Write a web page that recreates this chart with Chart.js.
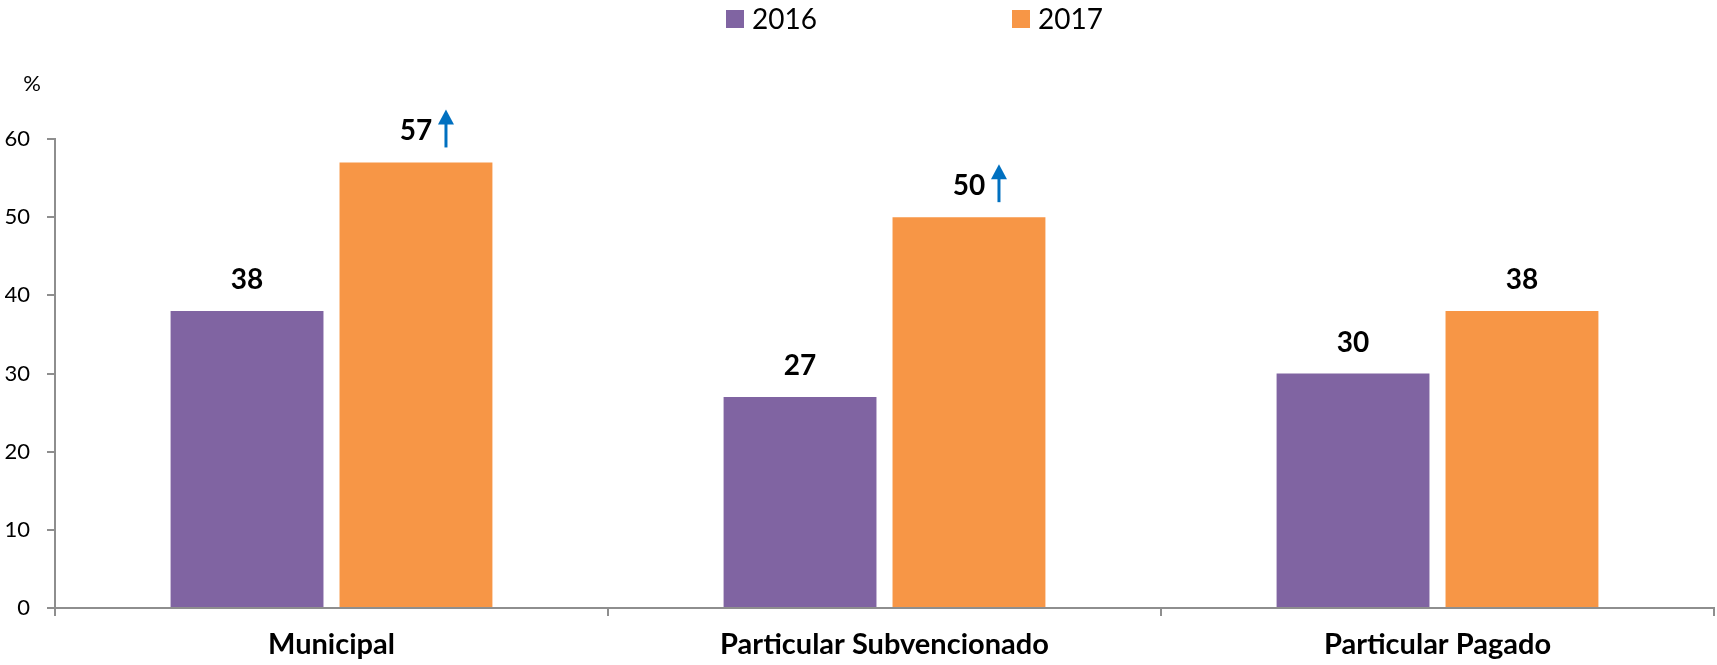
<!DOCTYPE html>
<html>
<head>
<meta charset="utf-8">
<script src="https://cdn.jsdelivr.net/npm/chart.js@4/dist/chart.umd.min.js"></script>
<style>
  html, body { margin: 0; padding: 0; background: #ffffff; }
  #wrap { width: 1717px; height: 665px; position: relative; }
</style>
</head>
<body>
<div id="wrap"><canvas id="c" width="1717" height="665"></canvas></div>
<script>
// ---- data ----
const categories = ["Municipal", "Particular Subvencionado", "Particular Pagado"];
const seriesNames = ["2016", "2017"];
const values2016 = [38, 27, 30];
const values2017 = [57, 50, 38];
const arrows2017 = [true, true, false];
const yTicks = [0, 10, 20, 30, 40, 50, 60];
const yUnit = "%";

const colors = ["#8064A2", "#F79646"];
const axisColor = "#8e8e8e";
const fontFamily = "Lato, 'Open Sans', 'Liberation Sans', sans-serif";

const overlayPlugin = {
  id: "overlay",
  afterDraw(chart) {
    const ctx = chart.ctx;
    ctx.save();
    // legend
    ctx.font = "28px " + fontFamily;
    ctx.textBaseline = "middle";
    ctx.textAlign = "left";
    const legendX = [726, 1012];
    seriesNames.forEach((name, i) => {
      ctx.fillStyle = colors[i];
      ctx.fillRect(legendX[i], 10, 18, 18);
      ctx.fillStyle = "#000000";
      ctx.fillText(name, legendX[i] + 26, 20);
    });
    // unit label
    ctx.font = "22px " + fontFamily;
    ctx.textAlign = "center";
    ctx.fillText(yUnit, 32, 84);
    // data labels
    ctx.font = "bold 28px " + fontFamily;
    ctx.textAlign = "center";
    ctx.textBaseline = "middle";
    chart.data.datasets.forEach((ds, di) => {
      const meta = chart.getDatasetMeta(di);
      meta.data.forEach((bar, i) => {
        ctx.fillStyle = "#000000";
        ctx.fillText(String(ds.data[i]), bar.x, bar.y - 31);
        if (di === 1 && arrows2017[i]) {
          const ax = bar.x + 30;
          const top = bar.y - 53;
          ctx.strokeStyle = "#0070C0";
          ctx.fillStyle = "#0070C0";
          ctx.lineWidth = 3;
          ctx.beginPath();
          ctx.moveTo(ax, bar.y - 15);
          ctx.lineTo(ax, top + 10);
          ctx.stroke();
          ctx.beginPath();
          ctx.moveTo(ax, top);
          ctx.lineTo(ax - 8, top + 15);
          ctx.lineTo(ax + 8, top + 15);
          ctx.closePath();
          ctx.fill();
        }
      });
    });
    ctx.restore();
  }
};

new Chart(document.getElementById("c"), {
  type: "bar",
  data: {
    labels: categories,
    datasets: [
      { label: seriesNames[0], data: values2016, backgroundColor: colors[0] },
      { label: seriesNames[1], data: values2017, backgroundColor: colors[1] }
    ]
  },
  options: {
    responsive: false,
    animation: false,
    events: [],
    layout: { padding: { top: 139, left: 5, right: 3, bottom: 2 } },
    datasets: { bar: { categoryPercentage: 0.611, barPercentage: 0.905 } },
    plugins: { legend: { display: false }, tooltip: { enabled: false } },
    scales: {
      x: {
        afterFit(scale) { scale.height = 55; },
        grid: { display: true, drawOnChartArea: false, drawTicks: true, tickLength: 8, color: axisColor, lineWidth: 2, offset: true },
        border: { display: true, color: axisColor, width: 2 },
        ticks: { color: "#000000", font: { family: fontFamily, size: 29, weight: "bold" }, padding: 11, maxRotation: 0 }
      },
      y: {
        min: 0, max: 60,
        afterFit(scale) { scale.width = 50; },
        afterBuildTicks(scale) { scale.ticks = yTicks.map(v => ({ value: v })); },
        grid: { display: true, drawOnChartArea: false, drawTicks: true, tickLength: 8, color: axisColor, lineWidth: 2 },
        border: { display: true, color: axisColor, width: 2 },
        ticks: { color: "#000000", font: { family: fontFamily, size: 22 }, padding: 17 }
      }
    }
  },
  plugins: [overlayPlugin]
});
</script>
</body>
</html>
